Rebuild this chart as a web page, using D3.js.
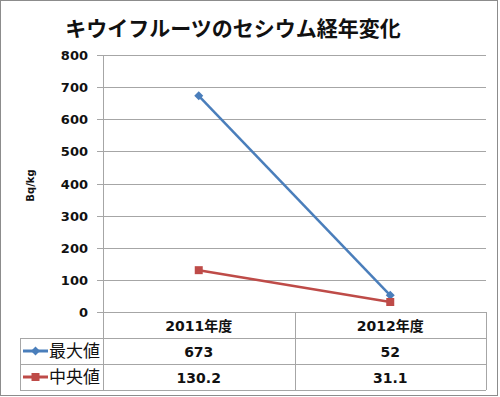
<!DOCTYPE html>
<html>
<head>
<meta charset="utf-8">
<script src="https://cdn.jsdelivr.net/npm/d3@7"></script>
<style>
  body { margin: 0; background: #fff; }
  svg { display: block; }
  text { font-family: "DejaVu Sans", "Noto Sans CJK JP", sans-serif; }
</style>
</head>
<body>
<div id="chart"></div>
<script>
const width = 500;
const height = 397;

// Data
const years = ["2011年度", "2012年度"];
const seriesNames = ["最大値", "中央値"];
const maxValues = [673, 52];
const medianValues = [130.2, 31.1];
const maxLabels = ["673", "52"];
const medianLabels = ["130.2", "31.1"];
const yTicks = [0, 100, 200, 300, 400, 500, 600, 700, 800];
const colors = ["#4a7ebb", "#be4b48"];

const plot = { left: 103, right: 486, top: 55, bottom: 312 };
const tableLeft = 20;
const rowH = 26;
const tableBottom = plot.bottom + rowH * 3;

const svg = d3.select("#chart")
    .append("svg")
    .attr("width", width)
    .attr("height", height);

// Outer border
svg.append("rect")
    .attr("x", 0.5).attr("y", 0.5)
    .attr("width", width - 3).attr("height", height - 2)
    .attr("fill", "#fff")
    .attr("stroke", "#8c8c8c");

// Title
svg.append("text")
    .attr("x", 233)
    .attr("y", 36)
    .attr("text-anchor", "middle")
    .style("font-family", "'Noto Sans CJK JP', sans-serif")
    .style("font-size", "21px")
    .style("font-weight", "bold")
    .attr("fill", "#111")
    .text("キウイフルーツのセシウム経年変化");

const x = d3.scaleBand()
    .domain(years)
    .range([plot.left, plot.right]);

const y = d3.scaleLinear()
    .domain([0, 800])
    .range([plot.bottom, plot.top]);

// Gridlines
svg.append("g")
    .selectAll("line")
    .data(yTicks)
  .enter().append("line")
    .attr("x1", plot.left - 6)
    .attr("x2", plot.right)
    .attr("y1", d => Math.round(y(d)) + 0.5)
    .attr("y2", d => Math.round(y(d)) + 0.5)
    .attr("stroke", "#a6a6a6");

// Y axis line
svg.append("line")
    .attr("x1", plot.left + 0.5).attr("x2", plot.left + 0.5)
    .attr("y1", plot.top).attr("y2", tableBottom)
    .attr("stroke", "#a6a6a6");

// Y tick labels
svg.append("g")
    .selectAll("text")
    .data(yTicks)
  .enter().append("text")
    .attr("x", 88)
    .attr("y", d => y(d) + 5)
    .attr("text-anchor", "end")
    .style("font-size", "13px")
    .style("font-weight", "bold")
    .attr("fill", "#111")
    .text(d => d);

// Y axis title
svg.append("text")
    .attr("transform", `translate(34,${(plot.top + plot.bottom) / 2 + 2}) rotate(-90)`)
    .attr("text-anchor", "middle")
    .style("font-size", "10px")
    .style("font-weight", "bold")
    .attr("fill", "#111")
    .text("Bq/kg");

// Data table grid
const tbl = svg.append("g").attr("stroke", "#a6a6a6").attr("fill", "none");
[plot.bottom + rowH, plot.bottom + rowH * 2, tableBottom].forEach(yy => {
    tbl.append("line")
        .attr("x1", tableLeft).attr("x2", plot.right)
        .attr("y1", yy + 0.5).attr("y2", yy + 0.5);
});
tbl.append("line")
    .attr("x1", tableLeft + 0.5).attr("x2", tableLeft + 0.5)
    .attr("y1", plot.bottom + rowH).attr("y2", tableBottom);
x.domain().forEach(d => {
    const xx = Math.round(x(d) + x.bandwidth()) + 0.5;
    tbl.append("line")
        .attr("x1", xx).attr("x2", xx)
        .attr("y1", plot.bottom)
        .attr("y2", tableBottom);
});

// Header row
svg.append("g")
    .selectAll("text")
    .data(years)
  .enter().append("text")
    .attr("x", d => x(d) + x.bandwidth() / 2)
    .attr("y", plot.bottom + 19)
    .attr("text-anchor", "middle")
    .style("font-size", "14px")
    .style("font-weight", "bold")
    .attr("fill", "#111")
    .text(d => d);

// Value rows
[maxLabels, medianLabels].forEach((labels, r) => {
    svg.append("g")
        .selectAll("text")
        .data(labels)
      .enter().append("text")
        .attr("x", (d, i) => x(years[i]) + x.bandwidth() / 2)
        .attr("y", plot.bottom + rowH * (r + 1) + 19)
        .attr("text-anchor", "middle")
        .style("font-size", "14px")
        .style("font-weight", "bold")
        .attr("fill", "#111")
        .text(d => d);
});

// Markers: diamond = square turned 45 degrees
const markerPath = d3.symbol().type(d3.symbolSquare).size(64);
const markerTransform = (s, cx, cy) =>
    s === 0 ? `translate(${cx},${cy}) rotate(45) scale(0.8)` : `translate(${cx},${cy})`;

// Legend keys inside the table
seriesNames.forEach((name, r) => {
    const cy = plot.bottom + rowH * (r + 1) + rowH / 2;
    svg.append("line")
        .attr("x1", 23).attr("x2", 48)
        .attr("y1", cy).attr("y2", cy)
        .attr("stroke", colors[r])
        .attr("stroke-width", 3);
    svg.append("path")
        .attr("d", markerPath())
        .attr("transform", markerTransform(r, 35.5, cy))
        .attr("fill", colors[r]);
    svg.append("text")
        .attr("x", 49)
        .attr("y", cy + 6)
        .style("font-family", "'Noto Sans CJK JP', sans-serif")
        .style("font-size", "17px")
        .attr("fill", "#111")
        .text(name);
});

// Lines
const line = d3.line()
    .x((d, i) => x(years[i]) + x.bandwidth() / 2)
    .y(d => y(d));

[maxValues, medianValues].forEach((values, s) => {
    svg.append("path")
        .datum(values)
        .attr("d", line)
        .attr("fill", "none")
        .attr("stroke", colors[s])
        .attr("stroke-width", 2.5);

    svg.append("g")
        .selectAll("path")
        .data(values)
      .enter().append("path")
        .attr("d", markerPath())
        .attr("transform", (d, i) => markerTransform(s, x(years[i]) + x.bandwidth() / 2, y(d)))
        .attr("fill", colors[s]);
});
</script>
</body>
</html>
